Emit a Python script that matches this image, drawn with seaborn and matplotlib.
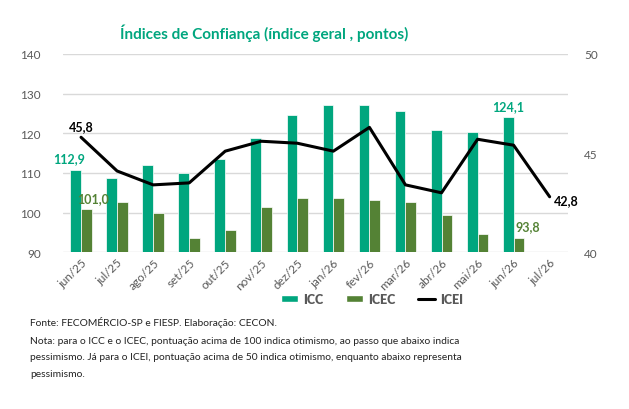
import numpy as np
import pandas as pd
import matplotlib
matplotlib.use('Agg')
import matplotlib.pyplot as plt
import seaborn as sns
from matplotlib.patches import Patch
from matplotlib.lines import Line2D

# data
meses = ['jun/25', 'jul/25', 'ago/25', 'set/25', 'out/25', 'nov/25', 'dez/25',
         'jan/26', 'fev/26', 'mar/26', 'abr/26', 'mai/26', 'jun/26', 'jul/26']
icc = [110.8, 108.8, 111.9, 110.1, 113.4, 118.7, 124.5,
       127.2, 127.2, 125.7, 120.9, 120.4, 124.0]
icec = [100.8, 102.8, 99.8, 93.7, 95.5, 101.5, 103.8,
        103.8, 103.3, 102.8, 99.5, 94.7, 93.7]
icei = [45.8, 44.1, 43.4, 43.5, 45.1, 45.6, 45.5,
        45.1, 46.3, 43.4, 43.0, 45.7, 45.4, 42.8]
rotulos = {'icc_first': '112,9', 'icec_first': '101,0', 'icei_first': '45,8',
           'icc_last': '124,1', 'icec_last': '93,8', 'icei_last': '42,8'}

verde = '#00A67E'
oliva = '#548235'
cinza = '#595959'

df = pd.DataFrame({
    'mes': meses[:len(icc)] * 2,
    'valor': icc + icec,
    'indice': ['ICC'] * len(icc) + ['ICEC'] * len(icec),
})

sns.set_style('white')
plt.rcParams['font.family'] = ['Lato', 'DejaVu Sans']

fig = plt.figure(figsize=(6.29, 4.10), dpi=100)
ax = fig.add_axes([0.1002, 0.3822, 0.8023, 0.4837])

sns.barplot(data=df, x='mes', y='valor', hue='indice', order=meses,
            palette={'ICC': verde, 'ICEC': oliva}, width=0.6, saturation=1,
            edgecolor='white', linewidth=0.5, ax=ax, legend=False)
ax.set_ylim(90, 140)
ax.set_yticks(range(90, 141, 10))
ax.yaxis.grid(True, color='#d9d9d9', linewidth=1)
ax.set_axisbelow(True)
ax.set_xlim(-0.5, len(meses) - 0.5)
ax.set_xlabel('')
ax.set_ylabel('')
for s in ax.spines.values():
    s.set_visible(False)
ax.tick_params(axis='both', length=0, labelsize=8.5, labelcolor=cinza)
ax.tick_params(axis='y', pad=16)
ax.tick_params(axis='x', pad=3)
plt.setp(ax.get_xticklabels(), rotation=45, ha='right', rotation_mode='anchor')

ax2 = ax.twinx()
sns.lineplot(x=np.arange(len(icei)), y=icei, color='black', linewidth=2.2, ax=ax2)
ax2.set_ylim(40, 50)
ax2.set_yticks([40, 45, 50])
for s in ax2.spines.values():
    s.set_visible(False)
ax2.tick_params(axis='y', length=0, labelsize=8.5, labelcolor=cinza, pad=12)
ax2.set_xlim(-0.5, len(meses) - 0.5)

# data labels
bold = dict(fontweight='bold', fontsize=9, ha='center', va='bottom')
ax.annotate(rotulos['icc_first'], (-0.15, icc[0]), xytext=(-5, 4),
            textcoords='offset points', color=verde, **bold)
ax.annotate(rotulos['icec_first'], (0.15, icec[0]), xytext=(5, 4),
            textcoords='offset points', color=oliva, **bold)
ax.annotate(rotulos['icc_last'], (12 - 0.15, icc[-1]), xytext=(0, 4),
            textcoords='offset points', color=verde, **bold)
ax.annotate(rotulos['icec_last'], (12 + 0.15, icec[-1]), xytext=(6, 4),
            textcoords='offset points', color=oliva, **bold)
ax2.annotate(rotulos['icei_first'], (0, icei[0]), xytext=(0, 4),
             textcoords='offset points', color='black', **bold)
ax2.annotate(rotulos['icei_last'], (13, icei[-1]), xytext=(12, -7),
             textcoords='offset points', color='black', **bold)

fig.text(264 / 629, 1 - 33 / 410, 'Índices de Confiança (índice geral , pontos)',
         ha='center', va='center', fontsize=11, fontweight='bold', color=verde)

handles = [Patch(facecolor=verde), Patch(facecolor=oliva),
           Line2D([0], [0], color='black', linewidth=2.2)]
leg = fig.legend(handles, ['ICC', 'ICEC', 'ICEI'], ncol=3, loc='center',
                 bbox_to_anchor=(372 / 629, 1 - 300 / 410), frameon=False,
                 handlelength=1.4, handleheight=0.55, columnspacing=1.8,
                 handletextpad=0.4, prop={'weight': 'bold', 'size': 9})
for t in leg.get_texts():
    t.set_color(cinza)
    t.set_fontweight('heavy')

fig.text(30 / 629, 1 - 323 / 410, 'Fonte: FECOMÉRCIO-SP e FIESP. Elaboração: CECON.',
         ha='left', va='center', fontsize=7.35, color='#222222')
fig.text(30 / 629, 1 - 337 / 410,
         'Nota: para o ICC e o ICEC, pontuação acima de 100 indica otimismo, ao passo que abaixo indica\n'
         'pessimismo. Já para o ICEI, pontuação acima de 50 indica otimismo, enquanto abaixo representa\n'
         'pessimismo.',
         ha='left', va='top', fontsize=7.35, color='#222222', linespacing=2.05)

fig.savefig('out.png', dpi=100, facecolor='white')
